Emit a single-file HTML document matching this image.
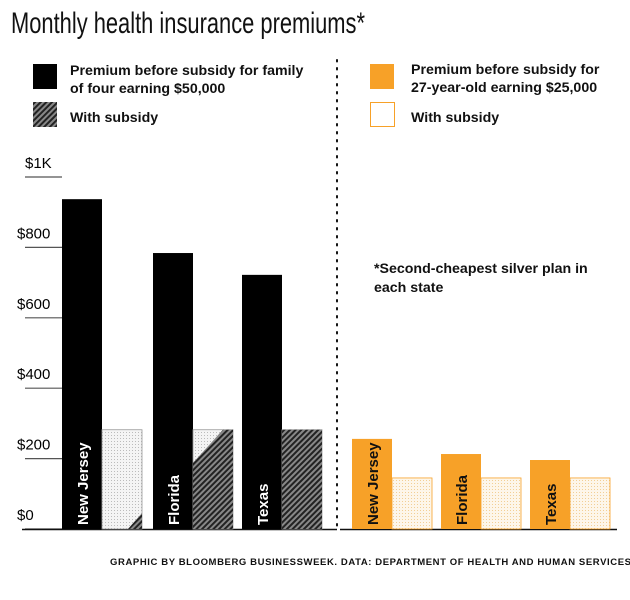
<!DOCTYPE html>
<html><head><meta charset="utf-8">
<style>
body{margin:0;background:#fff;}
svg{display:block;font-family:"Liberation Sans",Arial,sans-serif;}
</style></head>
<body>
<svg width="630" height="600" viewBox="0 0 630 600">
<defs>
<pattern id="hatch" patternUnits="userSpaceOnUse" width="4" height="4" patternTransform="rotate(-45)">
<rect width="4" height="4" fill="#888"/><rect width="4" height="2" fill="#222"/>
</pattern>
<pattern id="dots" patternUnits="userSpaceOnUse" width="3" height="3">
<rect width="3" height="3" fill="#f4f4f4"/><rect width="1" height="1" fill="#bbb"/>
</pattern>
<pattern id="odots" patternUnits="userSpaceOnUse" width="3" height="3">
<rect width="3" height="3" fill="#fdf6ea"/><rect width="1" height="1" fill="#f2cf96"/>
</pattern>
</defs>
<text x="11" y="33" font-size="30" textLength="354" lengthAdjust="spacingAndGlyphs" fill="#111">Monthly health insurance premiums*</text>

<g>
<rect x="33" y="64" width="24" height="25" fill="#000"/>
<text x="70" y="75" font-size="14.2" font-weight="bold" fill="#111">Premium before subsidy for family</text>
<text x="70" y="93" font-size="14.2" font-weight="bold" fill="#111">of four earning $50,000</text>
<rect x="33" y="102" width="24" height="25" fill="url(#hatch)"/>
<text x="70" y="122" font-size="14.2" font-weight="bold" fill="#111">With subsidy</text>
</g>
<g>
<rect x="370" y="64" width="24" height="25" fill="#f7a128"/>
<text x="411" y="74" font-size="14.2" font-weight="bold" fill="#111">Premium before subsidy for</text>
<text x="411" y="92" font-size="14.2" font-weight="bold" fill="#111">27-year-old earning $25,000</text>
<rect x="370.5" y="102.5" width="24" height="24" fill="#fff" stroke="#f7a128"/>
<text x="411" y="122" font-size="14.2" font-weight="bold" fill="#111">With subsidy</text>
</g>

<line x1="337" y1="60" x2="337" y2="530" stroke="#111" stroke-width="2" stroke-dasharray="1.5 6.5" stroke-linecap="round"/>

<text x="374" y="273" font-size="14.2" font-weight="bold" fill="#111">*Second-cheapest silver plan in</text>
<text x="374" y="292" font-size="14.2" font-weight="bold" fill="#111">each state</text>

<text x="110" y="565" font-size="9.5" font-weight="bold" letter-spacing="0.6" fill="#111">GRAPHIC BY BLOOMBERG BUSINESSWEEK. DATA: DEPARTMENT OF HEALTH AND HUMAN SERVICES</text>

<g id="axis"></g>
<g id="bars"></g>
</svg>
<script>
const states = ["New Jersey","Florida","Texas"];
const familyPremium = [937, 784, 722];
const familySubsidy = [282, 282, 282];
const singlePremium = [256, 213, 196];
const singleSubsidy = [145, 145, 145];
const tickValues = [0, 200, 400, 600, 800, 1000];
const tickLabels = ["$0","$200","$400","$600","$800","$1K"];

const NS = "http://www.w3.org/2000/svg";
const y0 = 529, k = 0.352;
const y = v => y0 - v * k;
function mk(tag, attrs, parent){const e=document.createElementNS(NS,tag);for(const a in attrs)e.setAttribute(a,attrs[a]);parent.appendChild(e);return e;}
const axis = document.getElementById('axis');
const bars = document.getElementById('bars');

tickValues.forEach((v,i)=>{
  const ln = mk('line',{x1:25,x2:62,y1:y(v),y2:y(v),stroke:'#555','stroke-width':1.2},axis);
  
  
  const t = mk('text',{x: v===1000?25:17, y:y(v)-9,'font-size':15,fill:'#000'},axis);
  t.textContent = tickLabels[i];
  
  
});

const famX = [62, 153, 242], sinX = [352, 441, 530], bw = 40;
states.forEach((s,i)=>{
  const x = famX[i];
  const b = mk('rect',{x:x,y:y(familyPremium[i]),width:bw,height:y0-y(familyPremium[i]),fill:'#000'},bars);
  
  
  const sx = x+bw, st = y(familySubsidy[i]);
  const sb = mk('rect',{x:sx,y:st,width:bw,height:y0-st,fill:'url(#dots)',stroke:'#999','stroke-width':0.8},bars);
  
  
  let pts;
  if(i===0) pts=[[sx+26,y0],[sx+bw,y0],[sx+bw,y0-16]];
  else if(i===1) pts=[[sx,y0],[sx+bw,y0],[sx+bw,st],[sx+30,st],[sx,st+33]];
  else pts=[[sx,y0],[sx+bw,y0],[sx+bw,st],[sx,st]];
  const h = mk('polygon',{points:pts.map(p=>p.join(',')).join(' '),fill:'url(#hatch)'},bars);
  
  
  const lb = mk('text',{x:0,y:0,'font-size':15,'font-weight':'bold',fill:'#fff',transform:`translate(${x+26},${y0-4}) rotate(-90)`},bars);
  lb.textContent = s;
  
  

  const ox = sinX[i];
  const ob = mk('rect',{x:ox,y:y(singlePremium[i]),width:bw,height:y0-y(singlePremium[i]),fill:'#f7a128'},bars);
  
  
  const os = mk('rect',{x:ox+bw,y:y(singleSubsidy[i]),width:bw,height:y0-y(singleSubsidy[i]),fill:'url(#odots)',stroke:'#f7a128','stroke-width':0.8},bars);
  
  
  const ol = mk('text',{x:0,y:0,'font-size':15,'font-weight':'bold',fill:'#111',transform:`translate(${ox+26},${y0-4}) rotate(-90)`},bars);
  ol.textContent = s;
  
  
});
const bl = mk('line',{x1:22,x2:337,y1:y0+0.5,y2:y0+0.5,stroke:'#111','stroke-width':1.5},axis);


const br = mk('line',{x1:340,x2:617,y1:y0+0.5,y2:y0+0.5,stroke:'#111','stroke-width':1.5},axis);


</script>
</body></html>
